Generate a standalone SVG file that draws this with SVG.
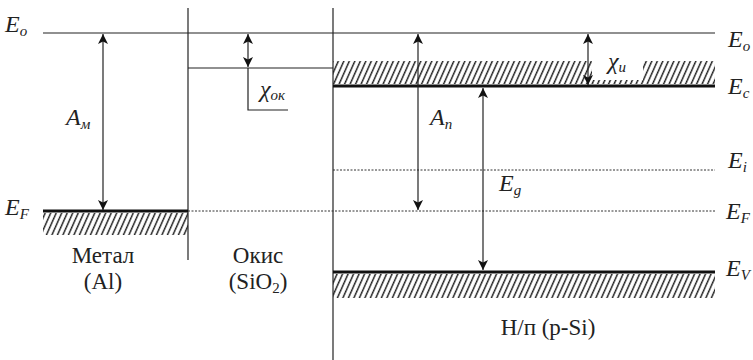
<svg xmlns="http://www.w3.org/2000/svg" width="753" height="360" viewBox="0 0 753 360">
<style>
.ln{stroke:#222;stroke-width:1.2;fill:none}
.thick{stroke:#111;stroke-width:3.2;fill:none}
.dot{stroke:#333;stroke-width:1;stroke-dasharray:2 1.5;fill:none}
.arr{stroke:#222;stroke-width:1.2;fill:none}
text{font-family:'Liberation Serif','DejaVu Serif',serif}
.lab{font-style:italic;font-size:24px;fill:#222}
.sub{font-size:15px}
.txt{font-size:23px;fill:#222;text-anchor:middle}
</style>
<defs>
<pattern id="hatch" patternUnits="userSpaceOnUse" width="5.5" height="30" patternTransform="skewX(-24)">
<line x1="2.5" y1="0" x2="2.5" y2="30" stroke="#222" stroke-width="1.6"/>
</pattern>
<marker id="ah" viewBox="0 0 10 10" refX="10" refY="5" markerWidth="13" markerHeight="10" markerUnits="userSpaceOnUse" orient="auto-start-reverse">
<path d="M0,0 L10,5 L0,10 L2.5,5 z" fill="#111"/>
</marker>
</defs>
<rect width="753" height="360" fill="#fff"/>

<g id="dividers">
<line class="ln" x1="188" y1="8" x2="188" y2="260"/>
<line class="ln" x1="333" y1="8" x2="333" y2="360"/>
</g>

<g id="vacuum-level">
<line class="ln" x1="43" y1="33" x2="715" y2="33"/>
<text class="lab" x="5" y="32">E<tspan class="sub" dy="4">o</tspan></text>
<text class="lab" x="728" y="47">E<tspan class="sub" dy="4">o</tspan></text>
</g>

<g id="metal">
<rect x="43" y="213" width="145" height="22" fill="url(#hatch)"/>
<line class="thick" x1="43" y1="211" x2="188" y2="211"/>
<text class="lab" x="5" y="215">E<tspan class="sub" dy="4">F</tspan></text>
<text class="txt" x="103" y="263">Метал</text>
<text class="txt" x="103" y="289">(Al)</text>
</g>

<g id="oxide">
<line class="ln" x1="188" y1="68" x2="333" y2="68"/>
<polyline class="ln" points="248,68 248,110 288,110"/>
<text class="lab" x="260" y="97">χ<tspan class="sub" dy="3">ок</tspan></text>
<text class="txt" x="258" y="263">Окис</text>
<text class="txt" x="258" y="289">(SiO<tspan font-size="15" dy="4">2</tspan><tspan dy="-4">)</tspan></text>
</g>

<g id="semiconductor">
<rect x="333" y="61" width="259" height="23" fill="url(#hatch)"/>
<rect x="643" y="61" width="72" height="23" fill="url(#hatch)"/>
<rect x="592" y="80" width="51" height="4" fill="url(#hatch)"/>
<line class="thick" x1="333" y1="86" x2="715" y2="86"/>
<line class="dot" x1="333" y1="170" x2="715" y2="170"/>
<rect x="333" y="274" width="382" height="24" fill="url(#hatch)"/>
<line class="thick" x1="333" y1="272" x2="715" y2="272"/>
<text class="lab" x="728" y="94">E<tspan class="sub" dy="4">c</tspan></text>
<text class="lab" x="728" y="168">E<tspan class="sub" dy="4">i</tspan></text>
<text class="lab" x="726" y="219">E<tspan class="sub" dy="4">F</tspan></text>
<text class="lab" x="726" y="276">E<tspan class="sub" dy="4">V</tspan></text>
<text class="txt" x="548" y="335">Н/п (p-Si)</text>
</g>

<g id="fermi-level">
<line class="dot" x1="188" y1="211" x2="715" y2="211"/>
</g>

<g id="connectors">
<line class="arr" x1="103" y1="34" x2="103" y2="210" marker-start="url(#ah)" marker-end="url(#ah)"/>
<line class="arr" x1="248" y1="34" x2="248" y2="67" marker-start="url(#ah)" marker-end="url(#ah)"/>
<line class="arr" x1="418" y1="34" x2="418" y2="210" marker-start="url(#ah)" marker-end="url(#ah)"/>
<line class="arr" x1="588" y1="34" x2="588" y2="85" marker-start="url(#ah)" marker-end="url(#ah)"/>
<line class="arr" x1="483" y1="88" x2="483" y2="270" marker-start="url(#ah)" marker-end="url(#ah)"/>
</g>

<g id="arrow-labels">
<text class="lab" x="66" y="125">A<tspan class="sub" dy="4">м</tspan></text>
<text class="lab" x="430" y="125">A<tspan class="sub" dy="4">п</tspan></text>
<text class="lab" x="499" y="191">E<tspan class="sub" dy="4">g</tspan></text>
<text class="lab" x="608" y="69">χ<tspan class="sub" dy="3">и</tspan></text>
</g>
</svg>
